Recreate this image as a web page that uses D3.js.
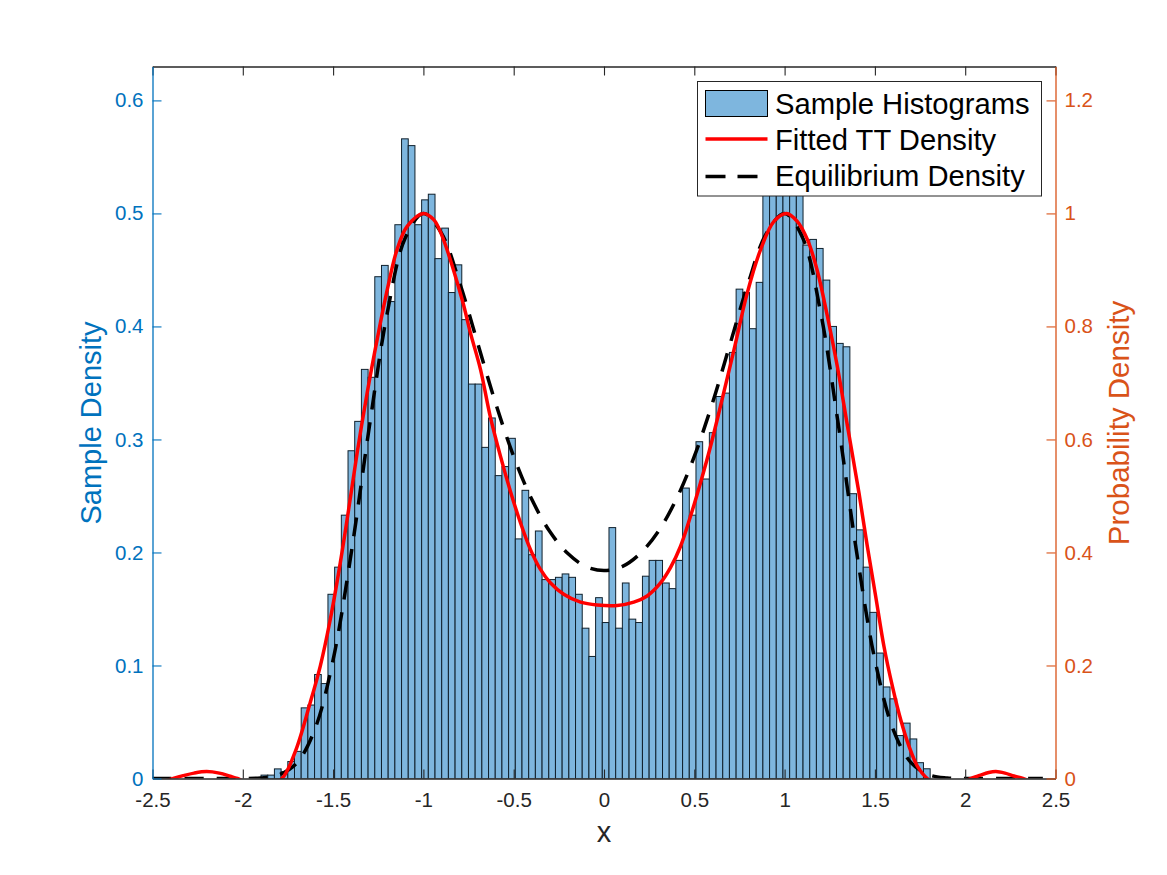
<!DOCTYPE html>
<html>
<head>
<meta charset="utf-8">
<script src="https://cdnjs.cloudflare.com/ajax/libs/d3/7.8.5/d3.min.js"></script>
<style>
body { margin: 0; background: #fff; }
text { font-family: "Liberation Sans", Arial, sans-serif; }
</style>
</head>
<body>
<svg id="chart" width="1167" height="875"></svg>
<script>
// histogram, bins all same width, first bin starts at binStart
var binStart = -1.899;
var binWidth = 0.03705;
var sampleDensity = [
  0.003, 0.003, 0.0085, 0.006, 0.015, 0.024, 0.0625, 0.065, 0.092, 0.084,
  0.163, 0.187, 0.233, 0.290, 0.316, 0.362, 0.355, 0.444, 0.454, 0.422,
  0.490, 0.566, 0.560, 0.490, 0.512, 0.517, 0.460, 0.487, 0.430, 0.4545,
  0.406, 0.349, 0.349, 0.293, 0.319, 0.268, 0.276, 0.301, 0.212, 0.255,
  0.198, 0.219, 0.176, 0.176, 0.178, 0.181, 0.178, 0.163, 0.133, 0.108,
  0.160, 0.138, 0.222, 0.133, 0.173, 0.141, 0.138, 0.179, 0.193, 0.193,
  0.173, 0.168, 0.193, 0.257, 0.233, 0.298, 0.265, 0.306, 0.338, 0.341,
  0.377, 0.433, 0.430, 0.398, 0.439, 0.530, 0.560, 0.580, 0.570, 0.560,
  0.540, 0.472, 0.477, 0.469, 0.441, 0.400, 0.385, 0.382, 0.252, 0.220,
  0.187, 0.147, 0.111, 0.081, 0.0705, 0.038, 0.049, 0.035, 0.014, 0.0086
];

// fitted curve (goes below 0 where it gets clipped)
var fittedX = [-2.5, -2.385, -2.33, -2.27, -2.2, -2.13, -2.07, -2.03, -1.95, -1.87, -1.783, -1.709, -1.627, -1.571, -1.516, -1.46, -1.414, -1.367, -1.311, -1.256, -1.2, -1.146, -1.09, -1.0, -0.943, -0.9, -0.786, -0.74, -0.684, -0.63, -0.573, -0.518, -0.463, -0.407, -0.352, -0.296, -0.223, -0.13, -0.038, 0.073, 0.165, 0.239, 0.313, 0.368, 0.424, 0.479, 0.534, 0.59, 0.645, 0.72, 0.793, 0.867, 0.941, 1.011, 1.07, 1.126, 1.18, 1.237, 1.292, 1.348, 1.412, 1.458, 1.504, 1.55, 1.597, 1.643, 1.689, 1.735, 1.79, 1.87, 1.95, 2.03, 2.08, 2.13, 2.17, 2.22, 2.27, 2.32, 2.4];
var fittedY = [-0.012, 0, 0.005, 0.0095, 0.0122, 0.0095, 0.004, 0, -0.012, -0.014, 0, 0.048, 0.134, 0.199, 0.281, 0.382, 0.476, 0.576, 0.683, 0.777, 0.865, 0.936, 0.977, 1.0, 0.989, 0.963, 0.848, 0.789, 0.724, 0.641, 0.57, 0.508, 0.453, 0.405, 0.37, 0.346, 0.326, 0.312, 0.307, 0.306, 0.312, 0.323, 0.346, 0.373, 0.411, 0.464, 0.523, 0.588, 0.659, 0.759, 0.859, 0.936, 0.986, 1.0, 0.986, 0.954, 0.90, 0.818, 0.729, 0.624, 0.505, 0.411, 0.323, 0.234, 0.163, 0.104, 0.057, 0.022, 0, -0.014, -0.012, 0, 0.0055, 0.0105, 0.0122, 0.0095, 0.0045, 0, -0.01];

// equilibrium curve
var equilX = [-2.5, -2.2, -2.0, -1.9, -1.8, -1.7, -1.6, -1.5, -1.4, -1.3, -1.2, -1.1, -1.0, -0.9, -0.8, -0.7, -0.6, -0.5, -0.4, -0.3, -0.2, -0.1, 0, 0.1, 0.2, 0.3, 0.4, 0.5, 0.6, 0.7, 0.8, 0.9, 1.0, 1.1, 1.2, 1.3, 1.4, 1.5, 1.6, 1.7, 1.8, 1.9, 2.0, 2.2, 2.43];
var equilY = [0, 0, 0, 0.001, 0.0066, 0.028, 0.088, 0.21, 0.398, 0.621, 0.824, 0.957, 1.0, 0.965, 0.878, 0.771, 0.664, 0.57, 0.494, 0.437, 0.398, 0.375, 0.368, 0.375, 0.398, 0.437, 0.494, 0.57, 0.664, 0.771, 0.878, 0.965, 1.0, 0.957, 0.824, 0.621, 0.398, 0.21, 0.088, 0.028, 0.0066, 0.001, 0, 0, 0];

var xTicks = [-2.5, -2, -1.5, -1, -0.5, 0, 0.5, 1, 1.5, 2, 2.5];
var leftTicks = [0, 0.1, 0.2, 0.3, 0.4, 0.5, 0.6];
var rightTicks = [0, 0.2, 0.4, 0.6, 0.8, 1, 1.2];
var legendLabels = ["Sample Histograms", "Fitted TT Density", "Equilibrium Density"];

var plotLeft = 152.5, plotRight = 1055.5, plotTop = 66.5, plotBottom = 778.5;
var blue = "#0072BD", orange = "#D95319", dark = "#262626";

var svg = d3.select("#chart");
var x = d3.scaleLinear().domain([-2.5, 2.5]).range([plotLeft, plotRight]);
var yLeft = d3.scaleLinear().domain([0, 0.63]).range([plotBottom, plotTop]);
var yRight = d3.scaleLinear().domain([0, 1.26]).range([plotBottom, plotTop]);

svg.append("clipPath").attr("id", "plot").append("rect")
  .attr("x", plotLeft).attr("y", plotTop).attr("width", plotRight - plotLeft).attr("height", plotBottom - plotTop);

var plot = svg.append("g").attr("clip-path", "url(#plot)");

plot.selectAll("rect.bar")
  .data(sampleDensity)
  .enter()
  .append("rect")
  .attr("class", "bar")
  .attr("x", function (d, i) { return x(binStart + i * binWidth); })
  .attr("width", function () { return x(binWidth) - x(0); })
  .attr("y", function (d) { return yLeft(d); })
  .attr("height", function (d) { return plotBottom - yLeft(d); })
  .attr("fill", "#7EB6DE")
  .attr("stroke", "#10202c")
  .attr("stroke-width", 1);

var equilLine = d3.line()
  .x(function (d, i) { return x(equilX[i]); })
  .y(function (d) { return yRight(d); })
  .curve(d3.curveCatmullRom.alpha(0.5));

var fittedLine = d3.line()
  .x(function (d, i) { return x(fittedX[i]); })
  .y(function (d) { return yRight(d); })
  .curve(d3.curveCatmullRom.alpha(0.5));

plot.append("path")
  .attr("d", equilLine(equilY))
  .attr("fill", "none")
  .attr("stroke", "#000")
  .attr("stroke-width", 3.5)
  .attr("stroke-dasharray", "19,13");

plot.append("path")
  .attr("d", fittedLine(fittedY))
  .attr("fill", "none")
  .attr("stroke", "#f00")
  .attr("stroke-width", 3.5);

// axes
var tickLen = 9;
var tickFmt = function (d) { return String(d); };
function style(g, color) {
  g.selectAll("path").attr("stroke", color).attr("stroke-width", 1.3);
  g.selectAll("line").attr("stroke", color).attr("stroke-width", 1.1);
  g.selectAll("text").attr("fill", color).style("font-size", "20.5px")
    .style("font-family", "'Liberation Sans', Arial, sans-serif");
}

var xAxis = svg.append("g").attr("transform", "translate(0," + plotBottom + ")")
  .call(d3.axisBottom(x).tickValues(xTicks).tickFormat(tickFmt).tickSizeInner(-tickLen).tickSizeOuter(0).tickPadding(13.5));
style(xAxis, dark);

var xTop = svg.append("g").attr("transform", "translate(0," + plotTop + ")")
  .call(d3.axisTop(x).tickValues(xTicks).tickFormat("").tickSizeInner(-tickLen).tickSizeOuter(0));
style(xTop, dark);

var leftAxis = svg.append("g").attr("transform", "translate(" + plotLeft + ",0)")
  .call(d3.axisLeft(yLeft).tickValues(leftTicks).tickFormat(tickFmt).tickSizeInner(-tickLen).tickSizeOuter(0).tickPadding(9));
style(leftAxis, blue);

var rightAxis = svg.append("g").attr("transform", "translate(" + plotRight + ",0)")
  .call(d3.axisRight(yRight).tickValues(rightTicks).tickFormat(tickFmt).tickSizeInner(-tickLen).tickSizeOuter(0).tickPadding(9));
style(rightAxis, orange);

// axis titles
svg.append("text").attr("x", 604).attr("y", 842).attr("text-anchor", "middle")
  .attr("fill", dark).style("font-size", "29px").text("x");
svg.append("text").attr("transform", "translate(101,423) rotate(-90)").attr("text-anchor", "middle")
  .attr("fill", blue).style("font-size", "29px").text("Sample Density");
svg.append("text").attr("transform", "translate(1129,423) rotate(-90)").attr("text-anchor", "middle")
  .attr("fill", orange).style("font-size", "29.5px").text("Probability Density");

// legend
var legend = svg.append("g").attr("transform", "translate(697.5,81.5)");
legend.append("rect").attr("width", 344).attr("height", 114.5)
  .attr("fill", "#fff").attr("stroke", dark).attr("stroke-width", 1);
legend.append("rect").attr("x", 8).attr("y", 9).attr("width", 62).attr("height", 26)
  .attr("fill", "#7EB6DE").attr("stroke", "#000").attr("stroke-width", 1);
legend.append("line").attr("x1", 8).attr("x2", 70).attr("y1", 57.5).attr("y2", 57.5)
  .attr("stroke", "#f00").attr("stroke-width", 3.5);
legend.append("line").attr("x1", 8).attr("x2", 70).attr("y1", 95).attr("y2", 95)
  .attr("stroke", "#000").attr("stroke-width", 3.5).attr("stroke-dasharray", "20,12");
legend.selectAll("text.lbl")
  .data(legendLabels)
  .enter()
  .append("text")
  .attr("class", "lbl")
  .attr("x", 77.5)
  .attr("y", function (d, i) { return 32.5 + i * 36; })
  .attr("fill", "#000")
  .style("font-size", "29.2px")
  .text(function (d) { return d; });
</script>
</body>
</html>
